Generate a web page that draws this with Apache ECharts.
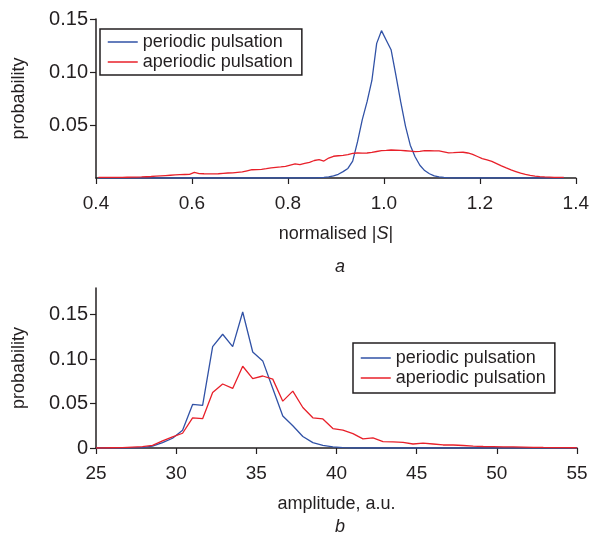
<!DOCTYPE html>
<html>
<head>
<meta charset="utf-8">
<title>pulsation distributions</title>
<script src="https://cdn.jsdelivr.net/npm/echarts@6/dist/echarts.min.js"></script>
<style>
  html, body { margin: 0; padding: 0; background: #fff; }
  #main { width: 592px; height: 533px; }
</style>
</head>
<body>
<div id="main"></div>
<script>
  // panel a: normalised |S|
  var normX = [
    0.405, 0.415, 0.425, 0.435, 0.445, 0.455, 0.465, 0.475, 0.485, 0.495,
    0.505, 0.515, 0.525, 0.535, 0.545, 0.555, 0.565, 0.575, 0.585, 0.595,
    0.605, 0.615, 0.625, 0.635, 0.645, 0.655, 0.665, 0.675, 0.685, 0.695,
    0.705, 0.715, 0.725, 0.735, 0.745, 0.755, 0.765, 0.775, 0.785, 0.795,
    0.805, 0.815, 0.825, 0.835, 0.845, 0.855, 0.865, 0.875, 0.885, 0.895,
    0.905, 0.915, 0.925, 0.935, 0.945, 0.955, 0.965, 0.975, 0.985, 0.995,
    1.005, 1.015, 1.025, 1.035, 1.045, 1.055, 1.065, 1.075, 1.085, 1.095,
    1.105, 1.115, 1.125, 1.135, 1.145, 1.155, 1.165, 1.175, 1.185, 1.195,
    1.205, 1.215, 1.225, 1.235, 1.245, 1.255, 1.265, 1.275, 1.285, 1.295,
    1.305, 1.315, 1.325, 1.335, 1.345, 1.355, 1.365, 1.375
  ]
  var normPeriodic = [
    0, 0, 0, 0, 0, 0, 0, 0, 0, 0,
    0, 0, 0, 0, 0, 0, 0, 0, 0, 0,
    0, 0, 0, 0, 0, 0, 0, 0, 0, 0,
    0, 0, 0, 0, 0, 0, 0, 0, 0, 0,
    0, 0, 0, 0, 0, 0, 0.0003, 0.0005, 0.001, 0.002,
    0.0035, 0.006, 0.009, 0.016, 0.034, 0.055, 0.072, 0.092, 0.127, 0.139,
    0.130, 0.121, 0.097, 0.072, 0.049, 0.031, 0.020, 0.012, 0.007, 0.004,
    0.002, 0.001, 0.0005, 0.0002, 0, 0, 0, 0, 0, 0,
    0, 0, 0, 0, 0, 0, 0, 0, 0, 0,
    0, 0, 0, 0, 0, 0, 0, 0
  ]
  var normAperiodic = [
    0.0005, 0.0005, 0.0005, 0.0005, 0.0006, 0.0006, 0.0007, 0.0008, 0.0009, 0.001,
    0.0012, 0.0014, 0.0017, 0.002, 0.0023, 0.0026, 0.0029, 0.0031, 0.0033, 0.0035,
    0.0053, 0.0042, 0.004, 0.0039, 0.0038, 0.004, 0.0044, 0.0047, 0.0049, 0.0053,
    0.0057, 0.0068, 0.0078, 0.0079, 0.0082, 0.0088, 0.0095, 0.0101, 0.0105, 0.011,
    0.0122, 0.0133, 0.0126, 0.0138, 0.0148, 0.0165, 0.0173, 0.016, 0.0188, 0.0205,
    0.021, 0.0214, 0.022, 0.0232, 0.0236, 0.0235, 0.0236, 0.0242, 0.025, 0.0258,
    0.026, 0.0264, 0.0262, 0.026, 0.0257, 0.0254, 0.0248, 0.0252, 0.0258, 0.0257,
    0.0256, 0.0255, 0.0247, 0.0237, 0.0239, 0.0242, 0.0243, 0.0236, 0.0223, 0.0203,
    0.0183, 0.017, 0.0156, 0.0135, 0.0114, 0.0095, 0.0077, 0.0061, 0.0045, 0.0034,
    0.0024, 0.0018, 0.0013, 0.001, 0.0008, 0.0006, 0.0005, 0.0005
  ]

  // panel b: amplitude
  var ampX = [
    25, 25.4, 26.025, 26.65, 27.275, 27.9, 28.525, 29.15, 29.775, 30.4,
    31.025, 31.65, 32.275, 32.9, 33.525, 34.15, 34.775, 35.4, 36.025, 36.65,
    37.275, 37.9, 38.525, 39.15, 39.775, 40.4, 41.025, 41.65, 42.275, 42.9,
    43.525, 44.15, 44.775, 45.4, 46.025, 46.65, 47.275, 47.9, 48.525, 49.15,
    49.775, 50.4, 51.025, 51.65, 52.275, 52.9, 53.525, 54.15, 54.775, 55
  ]
  var ampPeriodic = [
    0, 0, 0, 0, 0.0002, 0.0005, 0.002, 0.006, 0.011, 0.020,
    0.049, 0.048, 0.114, 0.128, 0.114, 0.153, 0.108, 0.098, 0.067, 0.036,
    0.025, 0.013, 0.006, 0.003, 0.0012, 0.0005, 0, 0, 0, 0,
    0, 0, 0, 0, 0, 0, 0, 0, 0, 0,
    0, 0, 0, 0, 0, 0, 0, 0, 0, 0
  ]
  var ampAperiodic = [
    0, 0, 0.0003, 0.0005, 0.001, 0.0015, 0.003, 0.008, 0.0125, 0.0166,
    0.034, 0.033, 0.0625, 0.072, 0.067, 0.092, 0.078, 0.081, 0.0775, 0.0527,
    0.064, 0.0456, 0.034, 0.0327, 0.0219, 0.020, 0.0162, 0.0102, 0.0113, 0.0072,
    0.0068, 0.0064, 0.0045, 0.0056, 0.0045, 0.0034, 0.0034, 0.0028, 0.002, 0.0017,
    0.0015, 0.0013, 0.0012, 0.001, 0.0008, 0.0006, 0.0005, 0.0004, 0.0003, 0.0002
  ]

  var seriesNames = ['periodic pulsation', 'aperiodic pulsation']
  var probTicksA = [0.05, 0.10, 0.15]
  var probTicksB = [0, 0.05, 0.10, 0.15]

  var ink = '#231f20'
  var blue = '#3152a6'
  var red = '#e8202a'
  var font = 'Liberation Sans, Arial, Helvetica, sans-serif'

  function pairs(xs, ys) {
    return xs.map(function (x, i) { return [x, ys[i]] })
  }

  function xAxisCfg(idx, min, max, step, name, digits) {
    return {
      type: 'value',
      gridIndex: idx,
      min: min,
      max: max,
      interval: step,
      name: name,
      nameLocation: 'middle',
      nameGap: 47,
      nameTextStyle: {
        color: ink, fontSize: 18, fontFamily: font,
        rich: { i: { fontStyle: 'italic', fontSize: 18, fontFamily: font, color: ink } }
      },
      axisLine: { onZero: false, lineStyle: { color: ink, width: 1.5 } },
      axisTick: { inside: false, length: 6, lineStyle: { color: ink, width: 1.2 } },
      axisLabel: {
        margin: 16, color: ink, fontSize: 19, fontFamily: font,
        formatter: function (v) { return v.toFixed(digits) }
      },
      splitLine: { show: false }
    }
  }

  function yAxisCfg(idx, max, ticks) {
    return {
      type: 'value',
      gridIndex: idx,
      min: 0,
      max: max,
      name: 'probability',
      nameLocation: 'middle',
      nameRotate: 90,
      nameGap: 68,
      nameTextStyle: { color: ink, fontSize: 18, fontFamily: font },
      axisLine: { show: true, onZero: false, lineStyle: { color: ink, width: 1.5 } },
      axisTick: { show: true, length: 6, customValues: ticks, lineStyle: { color: ink, width: 1.2 } },
      axisLabel: {
        margin: 8, color: ink, fontSize: 20, fontFamily: font,
        customValues: ticks,
        formatter: function (v) { return v === 0 ? '0' : v.toFixed(2) }
      },
      splitLine: { show: false }
    }
  }

  function lineSeries(name, idx, data, color) {
    return {
      name: name,
      type: 'line',
      xAxisIndex: idx,
      yAxisIndex: idx,
      data: data,
      symbol: 'none',
      showSymbol: false,
      lineStyle: { color: color, width: 1.3 },
      itemStyle: { color: color }
    }
  }

  function legendCfg(left, top, pad) {
    return {
      orient: 'vertical',
      left: left,
      top: top,
      padding: pad,
      itemGap: 2,
      itemWidth: 30,
      itemHeight: 14,
      borderColor: ink,
      borderWidth: 1.5,
      itemStyle: { opacity: 0 },
      lineStyle: { width: 1.5 },
      textStyle: { color: ink, fontSize: 18, fontFamily: font },
      data: seriesNames
    }
  }

  var chart = echarts.init(document.getElementById('main'))

  chart.setOption({
    backgroundColor: '#fff',
    animation: false,
    textStyle: { fontFamily: font },
    title: [
      { text: 'a', left: 330, top: 253, textStyle: { fontSize: 18, fontStyle: 'italic', fontWeight: 'normal', color: ink, fontFamily: font } },
      { text: 'b', left: 330, top: 513, textStyle: { fontSize: 18, fontStyle: 'italic', fontWeight: 'normal', color: ink, fontFamily: font } }
    ],
    grid: [
      { left: 96, right: 15, top: 19, height: 159 },
      { left: 96, right: 15, top: 288, height: 160 }
    ],
    legend: [
      legendCfg(100, 29, [4, 9, 4, 7]),
      legendCfg(353, 343, [6, 9, 6, 7])
    ],
    xAxis: [
      xAxisCfg(0, 0.4, 1.4, 0.2, 'normalised |{i|S}|', 1),
      xAxisCfg(1, 25, 55, 5, 'amplitude, a.u.', 0)
    ],
    yAxis: [
      yAxisCfg(0, 0.15, probTicksA),
      yAxisCfg(1, 0.18, probTicksB)
    ],
    series: [
      lineSeries(seriesNames[0], 0, pairs(normX, normPeriodic), blue),
      lineSeries(seriesNames[1], 0, pairs(normX, normAperiodic), red),
      lineSeries(seriesNames[0], 1, pairs(ampX, ampPeriodic), blue),
      lineSeries(seriesNames[1], 1, pairs(ampX, ampAperiodic), red)
    ]
  })
</script>
</body>
</html>
